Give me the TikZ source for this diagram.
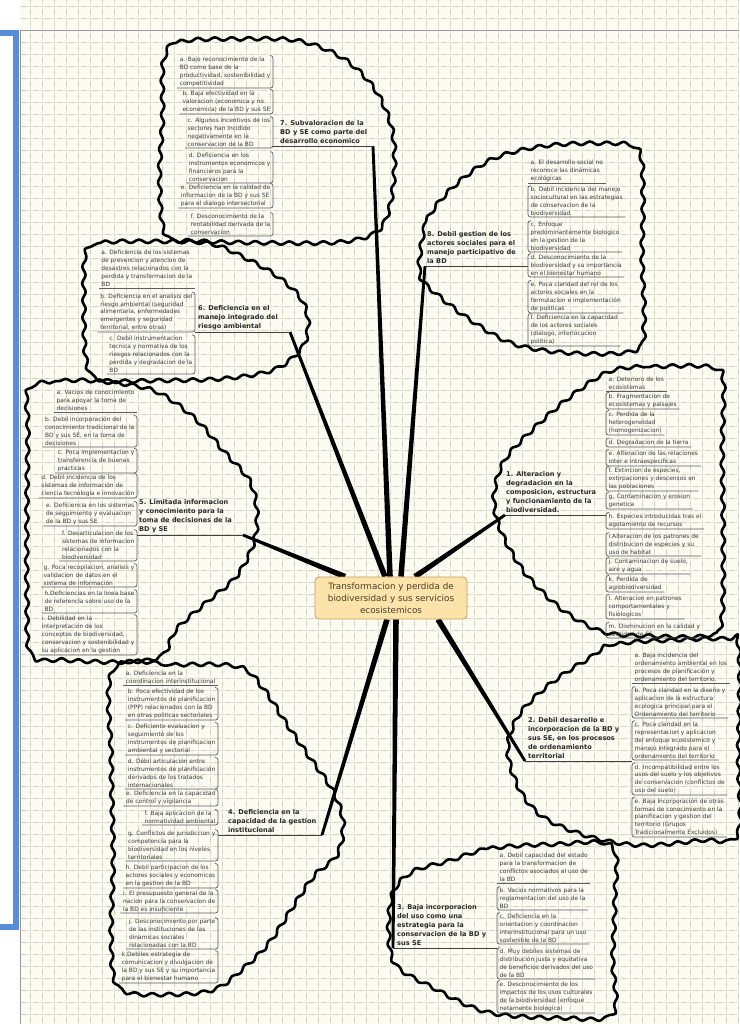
\documentclass[tikz,border=0pt]{standalone}
\usepackage{fontspec}
\setmainfont{DejaVu Sans}
\usetikzlibrary{calc,decorations.pathmorphing}
\pgfdeclarelayer{gridlayer}
\pgfdeclarelayer{linelayer}
\pgfsetlayers{gridlayer,linelayer,main}
\definecolor{paper}{HTML}{FBFBF1}
\definecolor{gridc}{HTML}{E6E6DA}
\definecolor{gridd}{HTML}{CFCFC3}
\definecolor{bracketblue}{HTML}{5A8DD8}
\definecolor{itemtext}{HTML}{3C3C3C}
\definecolor{itemline}{HTML}{5E5E5E}
\definecolor{labeltext}{HTML}{2A2A2A}
\definecolor{centerfill}{HTML}{FCE3A9}
\definecolor{centerdraw}{HTML}{C39D5C}
\definecolor{centertext}{HTML}{4B3E2A}
\tikzset{
 itm/.style={inner xsep=2.5pt, inner ysep=1.3pt, align=left, text=itemtext, font=\fontsize{5.9}{7.9}\selectfont},
 iline/.style={draw=itemline, line width=0.7pt, rounded corners=2.5pt},
 lbl/.style={inner xsep=0pt, inner ysep=2.2pt, anchor=south west, align=left, text=labeltext, font=\fontsize{6.6}{9}\selectfont\bfseries},
 uline/.style={draw=black!75, line width=0.8pt},
 cloud/.style={draw=black, line width=2.6pt, line join=round, decorate, decoration={snake, segment length=17pt, amplitude=1.7pt}},
 ctr/.style={draw=centerdraw, fill=centerfill, line width=0.8pt, rounded corners=4pt, minimum width=152pt, minimum height=42pt, align=center, text=centertext, font=\fontsize{8.8}{12}\selectfont}
}
\newcommand{\ritem}[4]{\node[itm, anchor=south west] (#1) at (#2,#3) {#4};
 \draw[iline] ([xshift=3pt]#1.north west) -- (#1.north west) -- (#1.south west) -- (#1.south east);}
\newcommand{\ritemA}[4]{\node[itm, anchor=south west] (#1) at (#2,#3) {#4};
 \draw[iline] (#1.south west) -- (#1.south east);}
\newcommand{\litem}[4]{\node[itm, anchor=south east] (#1) at (#2,#3) {#4};
 \draw[iline] ([xshift=-3pt]#1.north east) -- (#1.north east) -- (#1.south east) -- (#1.south west);}
\newcommand{\litemA}[4]{\node[itm, anchor=south east] (#1) at (#2,#3) {#4};
 \draw[iline] (#1.south east) -- (#1.south west);}
\newcommand{\conn}[2]{\fill[black] ($(#1)!1.4pt!90:(#2)$) -- ($(#1)!1.4pt!-90:(#2)$) -- ($(#2)!2.8pt!90:(#1)$) -- ($(#2)!2.8pt!-90:(#1)$) -- cycle;}
\begin{document}
\begin{tikzpicture}[x=1pt,y=-1pt]
\useasboundingbox (0,0) rectangle (739,1024);
% background paper
\begin{pgfonlayer}{gridlayer}
\fill[white] (0,0) rectangle (739,1024);
\fill[paper] (20,0) rectangle (739,1024);
\foreach \x in {30,42,...,738} \draw[gridc, line width=0.6pt] (\x,0) -- (\x,1024);
\foreach \y in {6,18,...,1023} \draw[gridc, line width=0.6pt] (20,\y) -- (739,\y);
\foreach \x in {30,42,...,738} \draw[gridd, line width=0.6pt, dash pattern=on 4pt off 8pt, dash phase=2pt] (\x,0) -- (\x,1024);
\foreach \y in {6,18,...,1023} \draw[gridd, line width=0.6pt, dash pattern=on 4pt off 8pt, dash phase=10pt] (20,\y) -- (739,\y);
\draw[black!40, line width=0.8pt] (20,1024) -- (20,30) -- (739,30);
\draw[bracketblue, line width=6.5pt] (0,33.25) -- (15.75,33.25) -- (15.75,926.75) -- (0,926.75);
\end{pgfonlayer}
% center
\node[ctr] (C) at (391,598) {Transformacion y perdida de\\biodiversidad y sus servicios\\ecosistemicos};
\coordinate (t5) at ([xshift=-46pt]C.north);
\coordinate (t6) at ([xshift=-6pt]C.north);
\coordinate (t7) at ([xshift=-1pt]C.north);
\coordinate (t8) at ([xshift=10pt]C.north);
\coordinate (t1) at ([xshift=24pt]C.north);
\coordinate (t2) at ([xshift=47pt]C.south);
\coordinate (t3) at ([xshift=5pt]C.south);
\coordinate (t4) at ([xshift=-4pt]C.south);
% hubs and ends
\coordinate (h7) at (273,146); \coordinate (e7) at (373,146);
\coordinate (h8) at (528,266); \coordinate (e8) at (425,266);
\coordinate (h6) at (195,332); \coordinate (e6) at (290,332);
\coordinate (h5) at (137,535); \coordinate (e5) at (243,535);
\coordinate (h1) at (606,515); \coordinate (e1) at (505,515);
\coordinate (h2) at (632,761); \coordinate (e2) at (525,761);
\coordinate (h3) at (497,948); \coordinate (e3) at (393,948);
\coordinate (h4) at (218,835); \coordinate (e4) at (322,835);
\begin{pgfonlayer}{linelayer}
\draw[cloud] plot[smooth cycle, tension=0.55] coordinates {(160,62) (176,43) (235,40) (295,42) (340,60) (372,92) (389,135) (389,190) (376,230) (338,243) (260,244) (192,242) (162,236) (156,180) (159,120)};
\draw[cloud] plot[smooth cycle, tension=0.55] coordinates {(418,258) (426,222) (452,190) (490,163) (540,150) (600,147) (636,153) (641,200) (640,260) (642,325) (634,354) (570,357) (512,348) (470,325) (437,300) (419,282)};
\draw[cloud] plot[smooth cycle, tension=0.55] coordinates {(82,252) (100,243) (150,242) (205,244) (240,258) (272,276) (296,298) (304,322) (298,348) (270,370) (220,379) (150,381) (95,380) (82,360) (80,300)};
\draw[cloud] plot[smooth cycle, tension=0.55] coordinates {(25,388) (60,381) (100,382) (150,391) (190,418) (220,452) (246,482) (253,515) (249,545) (232,577) (202,603) (172,630) (158,656) (120,662) (60,660) (27,655) (23,600) (23,500) (24,430)};
\draw[cloud] plot[smooth cycle, tension=0.55] coordinates {(607,372) (650,367) (705,367) (719,380) (718,450) (719,540) (717,625) (700,637) (650,637) (605,634) (575,621) (548,601) (520,571) (498,532) (491,498) (501,462) (530,430) (568,397)};
\draw[cloud] plot[smooth cycle, tension=0.55] coordinates {(588,662) (615,645) (670,641) (720,640) (737,648) (737,760) (736,838) (700,844) (640,849) (590,841) (545,823) (522,800) (509,770) (507,745) (518,718) (540,695) (565,676)};
\draw[cloud] plot[smooth cycle, tension=0.55] coordinates {(445,862) (487,849) (550,845) (608,847) (611,900) (609,960) (609,1015) (560,1019) (500,1016) (468,1008) (430,989) (392,966) (385,930) (390,892) (410,872)};
\draw[cloud] plot[smooth cycle, tension=0.55] coordinates {(109,670) (170,665) (235,667) (260,690) (281,722) (305,757) (328,790) (339,822) (333,855) (310,876) (290,905) (265,943) (240,968) (210,990) (165,995) (115,989) (107,940) (109,860) (107,760)};
\conn{e1}{t1} \conn{e2}{t2} \conn{e3}{t3} \conn{e4}{t4}
\conn{e5}{t5} \conn{e6}{t6} \conn{e7}{t7} \conn{e8}{t8}
\end{pgfonlayer}
% label underlines
\foreach \n in {1,...,8} \draw[uline] (h\n) -- (e\n);
% Branch 7
\node[lbl] (L7) at (280,146) {7. Subvaloracion de la\\BD y SE como parte del\\desarrollo economico};
\litem{b7a}{273}{88}{a. Bajo reconocimiento de la\\BD como base de la\\productividad, sostenibilidad y\\competitividad}
\litem{b7b}{273}{114}{b. Baja efectividad en la\\valoracion (economica y no\\economica) de la BD y sus SE}
\litem{b7c}{273}{148}{c. Algunos incentivos de los\\sectores han incidido\\negativamente en la\\conservacion de la BD}
\litem{b7d}{273}{183}{d. Deficiencia en los\\instrumentos economicos y\\financieros para la\\conservacion}
\litem{b7e}{273}{208}{e. Deficiencia en la calidad de\\informacion de la BD y sus SE\\para el dialogo intersectorial}
\litem{b7f}{273}{236}{f. Desconocimiento de la\\rentabilidad derivada de la\\conservacion}
% Branch 8
\node[lbl] (L8) at (427,266) {8. Debil gestion de los\\actores sociales para el\\manejo participativo de\\la BD};
\ritemA{b8a}{528}{183}{a. El desarrollo social no\\reconoce las dinámicas\\ecológicas}
\ritem{b8b}{528}{217}{b. Debil incidencia del manejo\\sociocultural en las estrategias\\de conservacion de la\\biodiversidad}
\ritem{b8c}{528}{252}{c. Enfoque\\predominantemente biologico\\en la gestion de la\\biodiversidad}
\ritem{b8d}{528}{277}{d. Desconocimiento de la\\biodiversidad y su importancia\\en el bienestar humano}
\ritem{b8e}{528}{313}{e. Poca claridad del rol de los\\actores sociales en la\\formulacion e implementación\\de politicas}
\ritem{b8f}{528}{346}{f. Deficiencia en la capacidad\\de los actores sociales\\(dialogo, interlocucion\\politica)}
% Branch 6
\node[lbl] (L6) at (198,332) {6. Deficiencia en el\\manejo integrado del\\riesgo ambiental};
\litemA{b6a}{195}{288}{a. Deficiencia de los sistemas\\de prevencion y atencion de\\desastres relacionados con la\\perdida y transformacion de la\\BD}
\litem{b6b}{195}{332}{b. Deficiencia en el analisis del\\riesgo ambiental (seguridad\\alimentaria, enfermedades\\emergentes y seguridad\\territorial, entre otras)}
\litem{b6c}{195}{374}{c. Debil instrumentacion\\tecnica y normativa de los\\riesgos relacionados con la\\perdida y degradacion de la\\BD}
% Branch 5
\node[lbl] (L5) at (139,535) {5. Limitada informacion\\y conocimiento para la\\toma de decisiones de la\\BD y SE};
\litemA{b5a}{137}{412}{a. Vacios de conocimiento\\para apoyar la toma de\\decisiones}
\litem{b5b}{137}{447}{b. Debil incorporación del\\conocimiento tradicional de la\\BD y sus SE, en la toma de\\decisiones}
\litem{b5c}{137}{473}{c. Poca implementacion y\\transferencia de buenas\\practicas}
\litem{b5d}{137}{498}{d. Debil incidencia de los\\sistemas de información de\\ciencia tecnologia e innovación}
\litem{b5e}{137}{526}{e. Deficiencia en los sistemas\\de seguimiento y evaluacion\\de la BD y sus SE}
\litem{b5f}{137}{561}{f. Desarticulacion de los\\sistemas de informacion\\relacionados con la\\biodiversidad}
\litem{b5g}{137}{587}{g. Poca recopilacion, analisis y\\validacion de datos en el\\sistema de información}
\litem{b5h}{137}{613}{h.Deficiencias en la linea base\\de referencia sobre uso de la\\BD}
\litem{b5i}{137}{655}{i. Debilidad en la\\interpretacion de los\\conceptos de biodiversidad,\\conservacion y sostenibilidad y\\su aplicacion en la gestion}
% Branch 1
\node[lbl] (L1) at (506,515) {1. Alteracion y\\degradacion en la\\composicion, estructura\\y funcionamiento de la\\biodiversidad.};
\ritemA{b1a}{606}{391}{a. Deterioro de los\\ecosistemas}
\ritem{b1b}{606}{409}{b. Fragmentacion de\\ecosistemas y paisajes}
\ritem{b1c}{606}{435}{c. Perdida de la\\heterogeneidad\\(homogenizacion)}
\ritem{b1d}{606}{447}{d. Degradacion de la tierra}
\ritem{b1e}{606}{466}{e. Alteracion de las relaciones\\inter e intraespecificas}
\ritem{b1f}{606}{491}{f. Extincion de especies,\\extirpaciones y descensos en\\las poblaciones}
\ritem{b1g}{606}{509}{g. Contaminacion y erosion\\genetica}
\ritem{b1h}{606}{529}{h. Especies introducidas tras el\\agotamiento de recursos}
\ritem{b1i}{606}{556}{i.Alteracion de los patrones de\\distribucion de especies y su\\uso de habitat}
\ritem{b1j}{606}{574}{j. Contaminacion de suelo,\\aire y agua}
\ritem{b1k}{606}{592}{k. Perdida de\\agrobiodiversidad}
\ritem{b1l}{606}{619}{l. Alteracion en patrones\\comportamentales y\\fisiologicos}
\ritem{b1m}{606}{638}{m. Disminucion en la calidad y\\cantidad de SE}
% Branch 2
\node[lbl] (L2) at (528,761) {2. Debil desarrollo e\\incorporacion de la BD y\\sus SE, en los procesos\\de ordenamiento\\territorial};
\ritemA{b2a}{632}{683}{a. Baja incidencia del\\ordenamiento ambiental en los\\procesos de planificación y\\ordenamiento del territorio.}
\ritem{b2b}{632}{718}{b. Poca claridad en la diseño y\\aplicacion de la estructura\\ecologica principal para el\\Ordenamiento del territorio}
\ritem{b2c}{632}{760}{c. Poca claridad en la\\representacion y aplicacion\\del enfoque ecosistemico y\\manejo integrado para el\\ordenamiento del territorio}
\ritem{b2d}{632}{795}{d. Incompatibilidad entre los\\usos del suelo y los objetivos\\de conservacion (conflictos de\\uso del suelo)}
\ritem{b2e}{632}{837}{e. Baja Incorporación de otras\\formas de conocimiento en la\\planificacion y gestion del\\territorio (Grupos\\Tradicionalmente Excluidos)}
% Branch 3
\node[lbl] (L3) at (397,948) {3. Baja incorporacion\\del uso como una\\estrategia para la\\conservacion de la BD y\\sus SE};
\ritemA{b3a}{497}{883}{a. Debil capacidad del estado\\para la transformacion de\\conflictos asociados al uso de\\la BD}
\ritem{b3b}{497}{910}{b. Vacios normativos para la\\reglamentacion del uso de la\\BD}
\ritem{b3c}{497}{944}{c. Deficiencia en la\\orientacion y coordinacion\\interinstitucional para un uso\\sostenible de la BD}
\ritem{b3d}{497}{979}{d. Muy debiles sistemas de\\distribución justa y equitativa\\de beneficios derivados del uso\\de la BD}
\ritem{b3e}{497}{1013}{e. Desconocimiento de los\\impactos de los usos culturales\\de la biodiversidad (enfoque\\netamente biologico)}
% Branch 4
\node[lbl] (L4) at (228,835) {4. Deficiencia en la\\capacidad de la gestion\\institucional};
\litemA{b4a}{218}{685}{a. Deficiencia en la\\coordinacion interinstitucional}
\litem{b4b}{218}{720}{b. Poca efectividad de los\\instrumentos de planificacion\\(PPP) relacionados con la BD\\en otras politicas sectoriales}
\litem{b4c}{218}{755}{c. Deficiente evaluacion y\\seguimiento de los\\instrumentos de planificacion\\ambiental y sectorial}
\litem{b4d}{218}{789}{d. Débil articulación entre\\instrumentos de planificación\\derivados de los tratados\\internacionales}
\litem{b4e}{218}{806}{e. Deficiencia en la capacidad\\de control y vigilancia}
\litem{b4f}{218}{825}{f. Baja aplicacion de la\\normatividad ambiental}
\litem{b4g}{218}{861}{g. Conflictos de jurisdiccion y\\competencia para la\\biodiversidad en los niveles\\territoriales}
\litem{b4h}{218}{888}{h. Debil participacion de los\\actores sociales y economicos\\en la gestion de la BD}
\litem{b4i}{218}{913}{i. El presupuesto general de la\\nacion para la conservacion de\\la BD es insuficiente}
\litem{b4j}{218}{949}{j. Desconocimiento por parte\\de las instituciones de las\\dinamicas sociales\\relacionadas con la BD}
\litem{b4k}{218}{983}{k.Debiles estrategia de\\comunicacion y divulgacion de\\la BD y sus SE y su importancia\\para el bienestar humano}
\end{tikzpicture}
\end{document}
